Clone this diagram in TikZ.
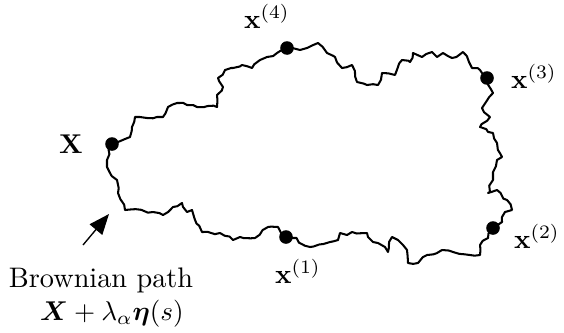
\documentclass[tikz,border=0pt]{standalone}
\usepackage{bm}
\usetikzlibrary{arrows.meta,decorations.pathmorphing}

\tikzset{
	dot/.style={circle, fill=black, inner sep=0pt, minimum size=5pt},
	lbl/.style={inner sep=1pt, font=\fontsize{10.4pt}{12.5pt}\selectfont},
}

\begin{document}
\begin{tikzpicture}[x=0.368pt, y=-0.368pt]
		\useasboundingbox (0,0) rectangle (564,332);
		\pgfmathsetseed{11}
		
		%--- Brownian loop (closed path through the sample points) ---
		\draw[line width=0.75pt, line join=round,
		decorate, decoration={random steps, segment length=2pt, amplitude=0.6pt}]
		(112,144) -- (118,142) -- (130,137) -- (132,127) -- (135,117) -- (140,117)
		-- (147,118) -- (157,117) -- (163,117) -- (168,107) -- (177,103) -- (187,105)
		-- (197,107) -- (217,107) -- (217,95) -- (223,87) -- (218,78) -- (225,70)
		-- (233,68) -- (242,65) -- (252,68) -- (260,60) -- (267,57) -- (277,53)
		-- (287,48) -- (300,50) -- (307,48) -- (318,43) -- (327,53) -- (335,57)
		-- (342,68) -- (352,65) -- (357,82) -- (367,85) -- (378,85) -- (382,73)
		-- (395,75) -- (402,60) -- (410,62) -- (413,53) -- (422,57) -- (432,52)
		-- (437,57) -- (443,53) -- (452,58) -- (463,52) -- (472,68) -- (480,70)
		-- (487,78) -- (493,93) -- (482,108) -- (490,117) -- (480,127) -- (493,133)
		-- (497,143) -- (502,157) -- (497,160) -- (493,172) -- (493,180) -- (488,193)
		-- (497,190) -- (507,200) -- (512,210) -- (505,212) -- (502,222) -- (493,228)
		-- (488,238) -- (480,245) -- (480,255) -- (470,255) -- (453,252) -- (442,250)
		-- (427,255) -- (418,263) -- (408,263) -- (407,250) -- (398,240) -- (392,237)
		-- (388,252) -- (385,247) -- (378,243) -- (373,242) -- (368,237) -- (367,233)
		-- (352,232) -- (347,235) -- (340,233) -- (338,240) -- (330,242) -- (310,247)
		-- (293,238) -- (285,237) -- (278,227) -- (268,227) -- (255,238) -- (240,237)
		-- (233,240) -- (220,233) -- (202,232) -- (192,210) -- (187,212) -- (182,203)
		-- (173,207) -- (163,215) -- (153,212) -- (125,210) -- (118,193) -- (117,180)
		-- (110,173) -- (107,167) -- (107,160) -- cycle;
		
		%--- Sample points on the path ---
		\node[dot] (X)  at (112,144) {};
		\node[dot] (x4) at (287,48)  {};
		\node[dot] (x3) at (487,78)  {};
		\node[dot] (x2) at (493,228) {};
		\node[dot] (x1) at (286,237) {};
		
		% labels
		\node[lbl] (Xlab)  at (71,144)  {$\mathbf{X}$};
		\node[lbl] (x4lab) at (267,16)  {$\mathbf{x}^{(4)}$};
		\node[lbl] (x3lab) at (534,76)  {$\mathbf{x}^{(3)}$};
		\node[lbl] (x2lab) at (537,236) {$\mathbf{x}^{(2)}$};
		\node[lbl] (x1lab) at (298,271) {$\mathbf{x}^{(1)}$};
		
		%--- Caption with arrow ---
		\node[lbl, anchor=base] (brown) at (101,287) {Brownian path};
		\node[lbl, anchor=base] (brownform) at (112,320)
		{$\bm{X} + \lambda_\alpha \bm{\eta}(s)$};
		\coordinate (tail) at (83,245);
		\coordinate (tip)  at (109,214);
		\draw[line width=0.5pt, -{Triangle[length=7.5pt, width=6pt]}] (tail) -- (tip);
		
	\end{tikzpicture}
\end{document}
